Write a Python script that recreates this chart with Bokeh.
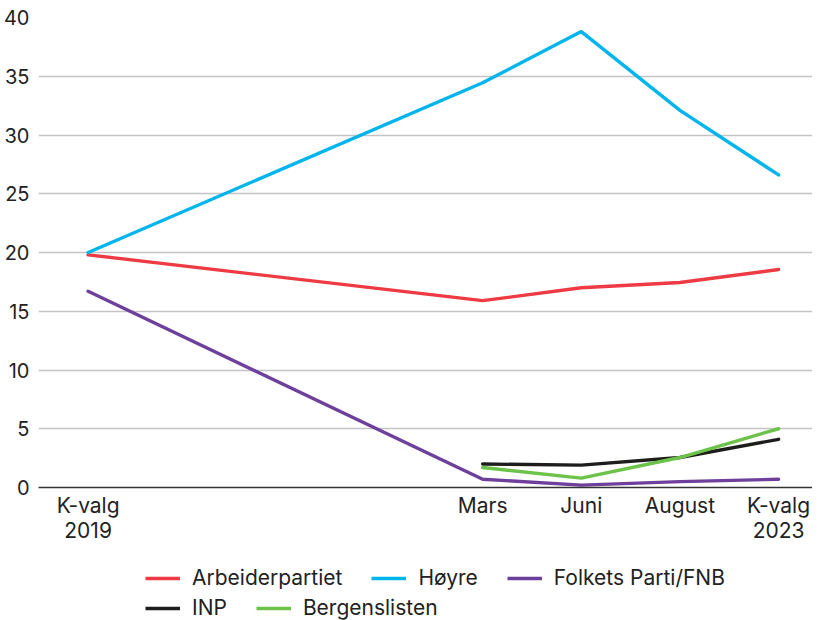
from bokeh.plotting import figure
from bokeh.layouts import column
from bokeh.models import Legend, LegendItem, Range1d, FixedTicker, ColumnDataSource
from bokeh.embed import file_html
from bokeh.resources import INLINE

# ---- data ----
periods = ["K-valg\n2019", "Mars", "Juni", "August", "K-valg\n2023"]
period_pos = [0, 4, 5, 6, 7]          # time position of each measurement
arbeiderpartiet = [19.8, 15.9, 17.0, 17.45, 18.55]
hoyre = [20.0, 34.45, 38.8, 32.1, 26.6]
folkets_parti = [16.7, 0.7, 0.2, 0.5, 0.7]
inp = [None, 2.0, 1.9, 2.55, 4.1]
bergenslisten = [None, 1.7, 0.8, 2.55, 5.0]
y_ticks = [0, 5, 10, 15, 20, 25, 30, 35, 40]

series = [
    ("Arbeiderpartiet", arbeiderpartiet, "#ee3a43"),
    ("Høyre", hoyre, "#00b4ec"),
    ("Folkets Parti/FNB", folkets_parti, "#6e3f9b"),
    ("INP", inp, "#1d1d1b"),
    ("Bergenslisten", bergenslisten, "#6cc24a"),
]

FONT = "Inter"
TXT = "#222222"
FS = "21px"
W = 812

p = figure(width=W, height=548, output_backend="svg", toolbar_location=None,
           x_range=Range1d(-0.503, 7.344), y_range=Range1d(0, 40))
p.min_border_left = 32
p.min_border_top = 17
p.min_border_right = 0
p.min_border_bottom = 61
p.outline_line_color = None
p.background_fill_color = "white"
p.border_fill_color = "white"

# axes
p.xaxis.ticker = FixedTicker(ticks=period_pos)
p.xaxis.major_label_overrides = {pos: lab for pos, lab in zip(period_pos, periods)}
p.xaxis.major_tick_line_color = None
p.xaxis.minor_tick_line_color = None
p.xaxis.major_tick_out = 0
p.xaxis.major_tick_in = 0
p.xaxis.axis_line_color = "#333333"
p.xaxis.axis_line_width = 1.5
p.xaxis.major_label_text_font = FONT
p.xaxis.major_label_text_font_size = FS
p.xaxis.major_label_text_color = TXT
p.xaxis.major_label_text_line_height = 1.0
p.xaxis.major_label_standoff = 5

p.yaxis.ticker = FixedTicker(ticks=y_ticks)
p.yaxis.major_tick_line_color = None
p.yaxis.minor_tick_line_color = None
p.yaxis.major_tick_out = 0
p.yaxis.major_tick_in = 0
p.yaxis.axis_line_color = None
p.yaxis.major_label_text_font = FONT
p.yaxis.major_label_text_font_size = "20px"
p.yaxis.major_label_text_color = TXT
p.yaxis.major_label_standoff = 9

p.xgrid.grid_line_color = None
p.ygrid.grid_line_color = "#c4c4c4"
p.ygrid.grid_line_width = 1.3

for name, vals, col in series:
    xs = [x for x, v in zip(period_pos, vals) if v is not None]
    ys = [v for v in vals if v is not None]
    src = ColumnDataSource(dict(x=xs, y=ys))
    p.line("x", "y", source=src, line_color=col, line_width=3.4,
           line_join="round", line_cap="round")

# ---- legend panel ----
lp = figure(width=W, height=72, output_backend="svg", toolbar_location=None,
            x_range=Range1d(0, 1), y_range=Range1d(0, 1),
            x_axis_type=None, y_axis_type=None)
lp.min_border = 0
lp.outline_line_color = None
lp.xgrid.grid_line_color = None
lp.ygrid.grid_line_color = None

leg_renderers = {}
for name, vals, col in series:
    # placeholder renderers lying outside the visible range; only their legend swatch shows
    leg_renderers[name] = lp.line(x=[5, 6], y=[5, 5], line_color=col, line_width=3.6)

def make_legend(names, loc):
    lg = Legend(items=[LegendItem(label=n, renderers=[leg_renderers[n]]) for n in names],
                orientation="horizontal", location=loc)
    lg.label_text_font = FONT
    lg.label_text_font_size = FS
    lg.label_text_color = TXT
    lg.glyph_width = 35
    lg.glyph_height = 20
    lg.label_height = 20
    lg.label_standoff = 12
    lg.spacing = 29
    lg.padding = 0
    lg.margin = 0
    lg.border_line_color = None
    lg.background_fill_alpha = 0
    return lg

lp.add_layout(make_legend(["Arbeiderpartiet", "Høyre", "Folkets Parti/FNB"], (107, 30)))
lp.add_layout(make_legend(["INP", "Bergenslisten"], (107, 0)))

layout = column(p, lp, spacing=0)
open("out.html", "w").write(file_html(layout, INLINE))
